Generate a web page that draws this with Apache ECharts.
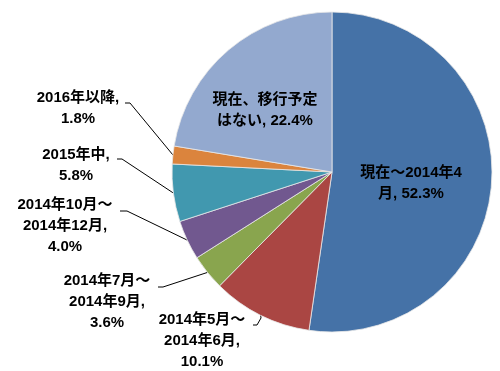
<!DOCTYPE html>
<html><head><meta charset="utf-8">
<script src="https://cdn.jsdelivr.net/npm/echarts@6/dist/echarts.min.js"></script>
<style>html,body{margin:0;padding:0;background:#fff}#c{width:500px;height:371px}</style>
</head><body><div id="c"></div>
<script>
const categories = ['現在～2014年4月','2014年5月～2014年6月','2014年7月～2014年9月','2014年10月～2014年12月','2015年中','2016年以降','現在、移行予定はない'];
const labelTexts = ['現在～2014年4\n月, 52.3%','2014年5月～\n2014年6月,\n10.1%','2014年7月～\n2014年9月,\n3.6%','2014年10月～\n2014年12月,\n4.0%','2015年中,\n5.8%','2016年以降,\n1.8%','現在、移行予定\nはない, 22.4%'];
const values = [52.3, 10.1, 3.6, 4.0, 5.8, 1.8, 22.4];
const colors = ['#4572A7','#AA4643','#89A54E','#71588F','#4198AF','#DB843D','#93A9CF'];
// label layout: centre of label block and leader line end points (null = inside label)
const labelPos = [
  {x:411, y:183, line:null},
  {x:202, y:341, line:[[261,318],[257,325],[253,325]]},
  {x:107, y:302, line:[[163,287],[158,287]]},
  {x:65,  y:226, line:[[127,211],[120,211]]},
  {x:76,  y:165, line:[[122,159],[117,159]]},
  {x:78,  y:108, line:[[130,103],[125,103]]},
  {x:265, y:110, line:null}
];
const chart = echarts.init(document.getElementById('c'), null, {renderer:'canvas'});
chart.setOption({
  animation:false,
  series:[{
    type:'pie',
    center:[332,172],
    radius:[0,160],
    startAngle:90,
    clockwise:true,
    avoidLabelOverlap:false,
    itemStyle:{borderColor:'#e8e8e8',borderWidth:0.8},
    label:{
      show:true,
      position:'outside',
      formatter:p=>labelTexts[p.dataIndex],
      color:'#000',
      fontSize:15,
      fontWeight:'bold',
      fontFamily:'"Liberation Sans", "Noto Sans CJK JP", sans-serif',
      lineHeight:21,
      align:'center'
    },
    labelLine:{show:true,lineStyle:{color:'#000',width:1},length:10,length2:10},
    labelLayout:function(p){
      const lp = labelPos[p.dataIndex];
      const out = {x:lp.x, y:lp.y, align:'center', verticalAlign:'middle'};
      if (lp.line && p.labelLinePoints) {
        out.labelLinePoints = [p.labelLinePoints[0]].concat(lp.line);
      }
      return out;
    },
    data: categories.map((c,i)=>({
      name:c, value:values[i],
      itemStyle:{color:colors[i]},
      label: labelPos[i].line === null ? {position:'inside'} : {},
      labelLine:{show: labelPos[i].line !== null}
    }))
  }]
});
</script></body></html>
